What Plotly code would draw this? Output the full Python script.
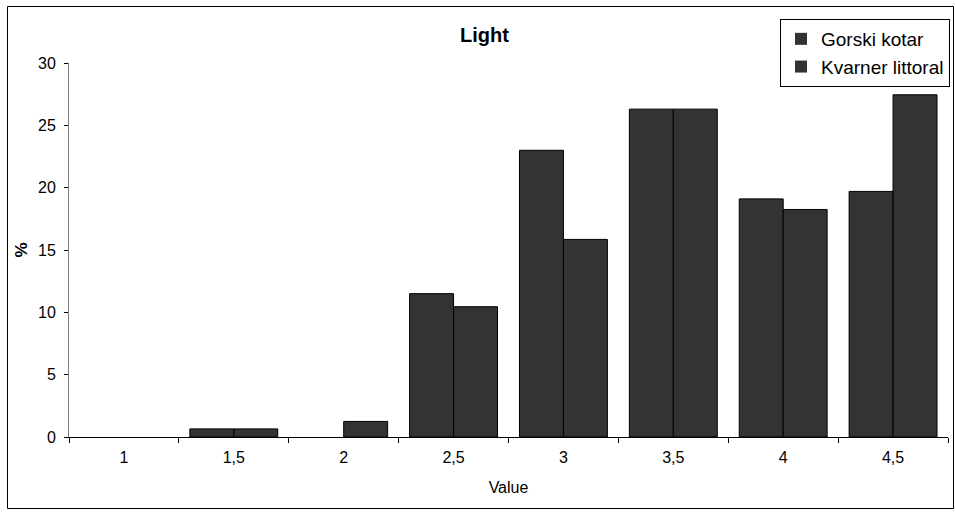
import plotly.graph_objects as go

# Rating categories (value scale, decimal comma)
categories = ["1", "1,5", "2", "2,5", "3", "3,5", "4", "4,5"]

# Share of responses (%) per region
gorski_kotar = [0, 0.65, 0, 11.5, 23.0, 26.3, 19.1, 19.7]
kvarner_littoral = [0, 0.65, 1.25, 10.45, 15.85, 26.3, 18.25, 27.45]

W, H = 955, 512
L, R, T, B = 69, 7, 63, 75
PW, PH = W - L - R, H - T - B


def px_x(x):
    return (x - L) / PW


def px_y(y):
    return (H - B - y) / PH


def bar_marker(values):
    # empty categories get no outline so nothing is drawn on the axis
    return dict(color="#333333",
                line=dict(color="#000000", width=[0 if v == 0 else 1 for v in values]))


fig = go.Figure()
fig.add_trace(go.Bar(name="Gorski kotar", x=categories, y=gorski_kotar,
                     marker=bar_marker(gorski_kotar)))
fig.add_trace(go.Bar(name="Kvarner littoral", x=categories, y=kvarner_littoral,
                     marker=bar_marker(kvarner_littoral)))

font = "Liberation Sans, Arial, sans-serif"

fig.update_layout(
    width=W,
    height=H,
    margin=dict(l=L, r=R, t=T, b=B, autoexpand=False),
    paper_bgcolor="white",
    plot_bgcolor="white",
    barmode="group",
    bargap=0.2,
    bargroupgap=0,
    font=dict(family=font, size=16, color="black"),
    showlegend=True,
    legend=dict(
        x=px_x(780), y=px_y(19), xanchor="left", yanchor="top",
        bordercolor="black", borderwidth=1, bgcolor="white",
        font=dict(size=19), itemwidth=30,
    ),
    annotations=[
        dict(text="<b>Light</b>", x=px_x(484), y=px_y(35), xref="paper", yref="paper",
             showarrow=False, font=dict(size=20), xanchor="center", yanchor="middle"),
    ],
    shapes=[
        dict(type="rect", xref="paper", yref="paper",
             x0=px_x(7.5), x1=px_x(953.5), y0=px_y(508.5), y1=px_y(6.5),
             line=dict(color="black", width=1), layer="below"),
    ],
)

fig.update_xaxes(
    type="category",
    showline=True, linecolor="black", linewidth=1,
    ticks="outside", tickson="boundaries", ticklen=5, tickcolor="black",
    showgrid=False, zeroline=False,
    tickfont=dict(size=16), ticklabelstandoff=6,
    title=dict(text="Value", font=dict(size=16), standoff=16),
)
fig.update_yaxes(
    range=[0, 30], dtick=5,
    showline=True, linecolor="#808080", linewidth=1,
    ticks="outside", ticklen=4, tickcolor="black",
    showgrid=False, zeroline=False,
    tickfont=dict(size=16), ticklabelstandoff=5,
    title=dict(text="<b>%</b>", font=dict(size=17), standoff=6),
)

fig.write_html("out.html")
